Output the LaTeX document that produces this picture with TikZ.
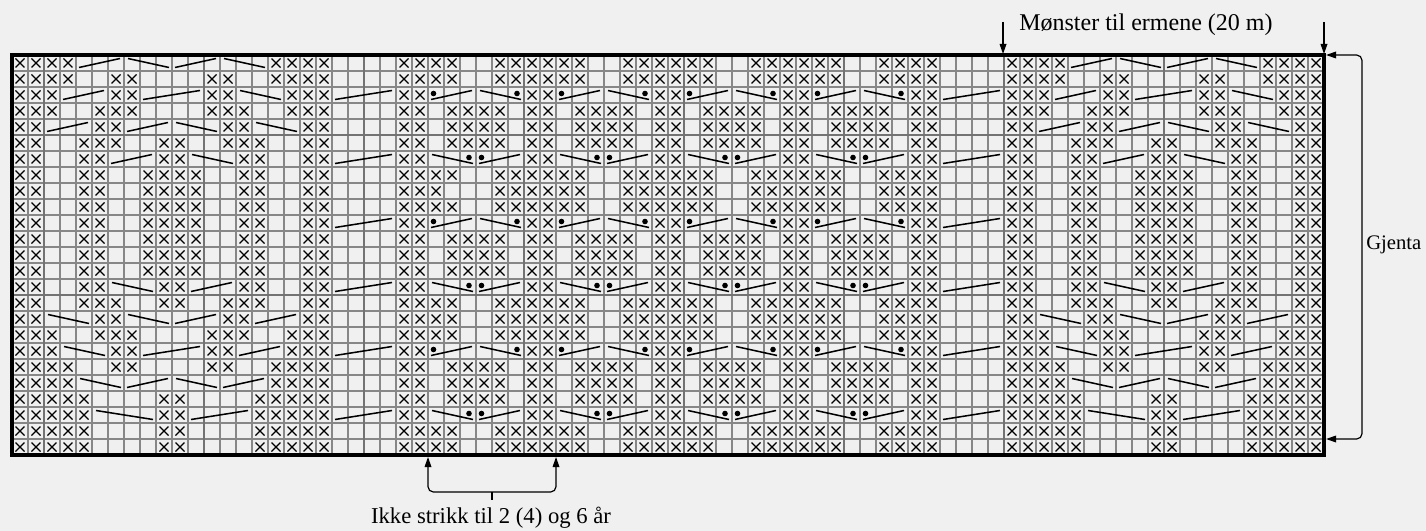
\documentclass[tikz,border=0pt]{standalone}
\usepackage{fontspec}
\setmainfont{Liberation Serif}
\usetikzlibrary{arrows.meta}
\definecolor{bgc}{RGB}{240,240,240}
\definecolor{gridc}{RGB}{135,135,135}
\definecolor{gridt}{RGB}{115,115,115}
\def\koff{0}
\newcommand\kX[2]{\draw[xmk] ({12+16*(\koff+#1)-12.5},{55+16*(#2)-12.5}) -- ++(9,9) ({12+16*(\koff+#1)-12.5},{55+16*(#2)-3.5}) -- ++(9,-9);}
\newcommand\kXr[3]{\foreach \kc in {#1,...,#2}{\kX{\kc}{#3}}}
\newcommand\kU[3]{\draw[cab] ({12+16*(\koff+#1-1)+3},{55+16*(#3-1)+12.5}) -- ({12+16*(\koff+#2)-4},{55+16*(#3-1)+3.5});}
\newcommand\kD[3]{\draw[cab] ({12+16*(\koff+#1-1)+4},{55+16*(#3-1)+3.5}) -- ({12+16*(\koff+#2)-3},{55+16*(#3-1)+12.5});}
\newcommand\kDL[2]{\fill ({12+16*(\koff+#1-1)+5.5},{55+16*(#2-1)+6.5}) circle[radius=2.8];}
\newcommand\kDR[2]{\fill ({12+16*(\koff+#1)-7},{55+16*(#2-1)+6.5}) circle[radius=2.8];}
\newcommand\ksleeve{%
 \kXr{1}{4}{1}\kXr{17}{20}{1}\kU{5}{7}{1}\kD{8}{10}{1}\kU{11}{13}{1}\kD{14}{16}{1}
 \kXr{1}{4}{2}\kXr{7}{8}{2}\kXr{13}{14}{2}\kXr{17}{20}{2}
 \kXr{1}{3}{3}\kXr{7}{8}{3}\kXr{13}{14}{3}\kXr{18}{20}{3}\kU{4}{6}{3}\kU{9}{12}{3}\kD{15}{17}{3}
 \kXr{1}{3}{4}\kXr{6}{8}{4}\kXr{13}{15}{4}\kXr{18}{20}{4}
 \kXr{1}{2}{5}\kXr{6}{7}{5}\kXr{14}{15}{5}\kXr{19}{20}{5}\kU{3}{5}{5}\kU{8}{10}{5}\kD{11}{13}{5}\kD{16}{18}{5}
 \kXr{1}{2}{6}\kXr{5}{7}{6}\kXr{10}{11}{6}\kXr{14}{16}{6}\kXr{19}{20}{6}
 \kXr{1}{2}{7}\kXr{5}{6}{7}\kXr{10}{11}{7}\kXr{15}{16}{7}\kXr{19}{20}{7}\kU{7}{9}{7}\kD{12}{14}{7}
 \foreach \kr in {8,...,14}{\kXr{1}{2}{\kr}\kXr{5}{6}{\kr}\kXr{9}{12}{\kr}\kXr{15}{16}{\kr}\kXr{19}{20}{\kr}}
 \kXr{1}{2}{15}\kXr{5}{6}{15}\kXr{10}{11}{15}\kXr{15}{16}{15}\kXr{19}{20}{15}\kD{7}{9}{15}\kU{12}{14}{15}
 \kXr{1}{2}{16}\kXr{5}{7}{16}\kXr{10}{11}{16}\kXr{14}{16}{16}\kXr{19}{20}{16}
 \kXr{1}{2}{17}\kXr{6}{7}{17}\kXr{14}{15}{17}\kXr{19}{20}{17}\kD{3}{5}{17}\kD{8}{10}{17}\kU{11}{13}{17}\kU{16}{18}{17}
 \kXr{1}{3}{18}\kXr{6}{8}{18}\kXr{13}{15}{18}\kXr{18}{20}{18}
 \kXr{1}{3}{19}\kXr{7}{8}{19}\kXr{13}{14}{19}\kXr{18}{20}{19}\kD{4}{6}{19}\kU{9}{12}{19}\kU{15}{17}{19}
 \kXr{1}{4}{20}\kXr{7}{8}{20}\kXr{13}{14}{20}\kXr{17}{20}{20}
 \kXr{1}{4}{21}\kXr{17}{20}{21}\kD{5}{7}{21}\kU{8}{10}{21}\kD{11}{13}{21}\kU{14}{16}{21}
 \foreach \kr in {22,...,25}{\kXr{1}{5}{\kr}\kXr{10}{11}{\kr}\kXr{16}{20}{\kr}}
 \kD{6}{9}{23}\kU{12}{15}{23}%
}
\newcommand\kpanel{%
 \foreach \kr in {1,2,8,10,16,17,18,24,25}{\kXr{1}{2}{\kr}\kXr{5}{6}{\kr}}
 \kX{1}{9}\ifnum\koff=26 \else\kX{2}{9}\fi\kXr{5}{6}{9}
 \foreach \kr in {4,5,6,12,13,14,20,21,22}{\kXr{2}{5}{\kr}}
 \foreach \kr in {3,11,19}{\kU{1}{3}{\kr}\kD{4}{6}{\kr}\kDL{1}{\kr}\kDR{6}{\kr}}
 \foreach \kr in {7,15,23}{\kD{1}{3}{\kr}\kU{4}{6}{\kr}\kDR{3}{\kr}\kDL{4}{\kr}}%
}
\tikzset{
 xmk/.style={line width=0.95pt, black},
 cab/.style={line width=1.15pt, black},
 thingrid/.style={line width=0.8pt, gridc},
 thickgrid/.style={line width=1.5pt, gridt},
 border/.style={line width=2.5pt, black},
 arr/.style={line width=0.9pt, -{Triangle[length=7.5pt,width=5pt]}},
 arrb/.style={line width=0.9pt, {Triangle[length=7.5pt,width=5pt]}-{Triangle[length=7.5pt,width=5pt]}, rounded corners=4},
 lbl/.style={font=\fontsize{18}{20}\selectfont, inner sep=0pt},
 lbls/.style={font=\fontsize{17}{19}\selectfont, inner sep=0pt},
 lblg/.style={font=\fontsize{15.5}{17}\selectfont, inner sep=0pt}
}
\begin{document}
\begin{tikzpicture}[x=0.75pt,y=-0.75pt]
\fill[bgc] (0,0) rectangle (1426,531);
\useasboundingbox (0,0) rectangle (1426,531);
% grid
\foreach \i in {0,...,82}{\draw[thingrid] (12+16*\i,55) -- (12+16*\i,455);}
\foreach \j in {0,...,25}{\draw[thingrid] (12,55+16*\j) -- (1324,55+16*\j);}
\foreach \i in {2,12,...,72}{\draw[thickgrid] (12+16*\i,55) -- (12+16*\i,455);}
\foreach \j in {5,15}{\draw[thickgrid] (12,55+16*\j) -- (1324,55+16*\j);}
% sleeve pattern left and right
\def\koff{0}\ksleeve
\def\koff{62}\ksleeve
% separators and side cables
\def\koff{0}
\foreach \c in {25,33,41,49,57}{\foreach \r in {1,...,25}{\kX{\c}{\r}\kX{\c+1}{\r}}}
\foreach \kr in {3,7,...,23}{\kU{21}{24}{\kr}\kU{59}{62}{\kr}}
% middle panels
\def\koff{26}\kpanel
\def\koff{34}\kpanel
\def\koff{42}\kpanel
\def\koff{50}\kpanel
% border
\draw[border] (12,55) rectangle (1324,455);
% top annotation
\node[lbl, anchor=base west] (mt) at (1019,31) {Mønster til ermene (20 m)};
\coordinate (ma1) at (1003,22); \coordinate (mb1) at (1003,54);
\coordinate (ma2) at (1324,22); \coordinate (mb2) at (1324,54);
\draw[arr] (ma1) -- (mb1);
\draw[arr] (ma2) -- (mb2);
% Gjenta bracket
\coordinate (gt) at (1326,55); \coordinate (gm) at (1362,245); \coordinate (gb) at (1326,439);
\draw[arrb] (gt) -| (gm) |- (gb);
\node[lblg, anchor=west] (gj) at (1366,245) {Gjenta};
% bottom bracket
\coordinate (b1) at (428,457); \coordinate (bm) at (492,492); \coordinate (b2) at (556,457);
\draw[arrb] (b1) |- (bm) -| (b2);
\coordinate (bt) at (492,500);
\draw[line width=0.9pt] (bm) -- (bt);
\node[lbls, anchor=base] (ik) at (491,523) {Ikke strikk til 2 (4) og 6 år};
\end{tikzpicture}
\end{document}
